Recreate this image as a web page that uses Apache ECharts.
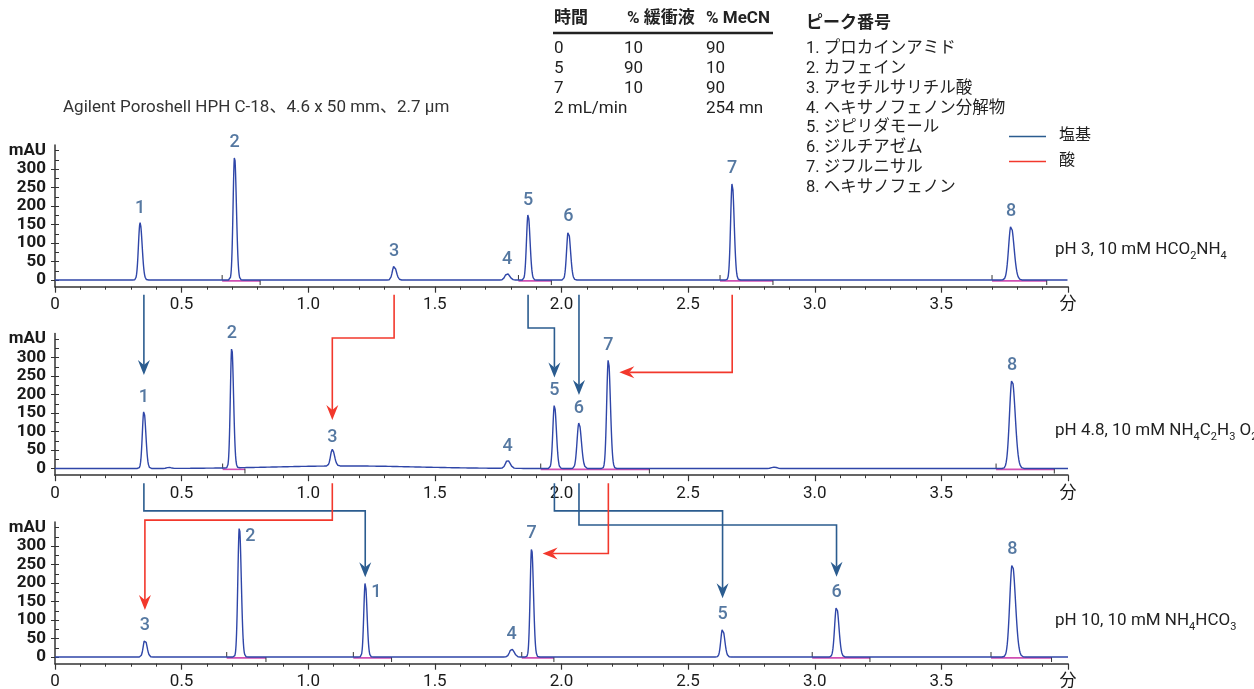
<!DOCTYPE html>
<html>
<head>
<meta charset="utf-8">
<script src="https://cdn.jsdelivr.net/npm/echarts@6/dist/echarts.min.js"></script>
<style>
html,body{margin:0;padding:0;background:#fff;}
#chart{width:1254px;height:689px;}
</style>
</head>
<body>
<div id="chart"></div>
<script>
// ---- peak table (retention time in min, height in mAU, gaussian sigma in min) ----
const peakNumbers = [1, 2, 3, 4, 5, 6, 7, 8];
const peakNames = ['プロカインアミド', 'カフェイン', 'アセチルサリチル酸', 'ヘキサノフェノン分解物',
  'ジピリダモール', 'ジルチアゼム', 'ジフルニサル', 'ヘキサノフェノン'];

// pH 3, 10 mM HCO2NH4
const ph3Times   = [0.336, 0.709, 1.339, 1.785, 1.868, 2.027, 2.674, 3.775];
const ph3Heights = [155, 335, 38, 18, 178, 133, 263, 147];
const ph3Sigmas  = [0.0065, 0.0058, 0.007, 0.008, 0.0062, 0.0068, 0.0062, 0.0095];
const ph3Integration = [[0.66, 0.81], [1.83, 1.96], [2.626, 2.835], [3.70, 3.916]];

// pH 4.8, 10 mM NH4C2H3O2
const ph48Times   = [0.351, 0.698, 1.095, 1.787, 1.972, 2.069, 2.185, 3.779];
const ph48Heights = [155, 326, 45, 22, 172, 124, 296, 241];
const ph48Sigmas  = [0.0062, 0.0056, 0.007, 0.008, 0.0062, 0.0075, 0.0065, 0.010];
const ph48Integration = [[0.662, 0.75], [1.918, 2.347], [3.716, 3.946]];
// unlabelled baseline features of the pH 4.8 run (small bumps and the broad rise)
const ph48MinorTimes   = [0.45, 1.15, 2.84];
const ph48MinorHeights = [3, 7, 4];
const ph48MinorSigmas  = [0.008, 0.28, 0.01];

// pH 10, 10 mM NH4HCO3
const ph10Times   = [1.225, 0.728, 0.355, 1.803, 2.636, 3.086, 1.882, 3.780];
const ph10Heights = [202, 352, 48, 22, 77, 137, 295, 252];
const ph10Sigmas  = [0.0056, 0.006, 0.0065, 0.008, 0.0068, 0.0075, 0.0058, 0.010];
const ph10Integration = [[0.678, 0.833], [1.178, 1.329], [1.843, 1.970], [2.99, 3.218], [3.696, 3.935]];

// gradient table
const gradientTimes = ['0', '5', '7'];
const bufferPct = ['10', '90', '10'];
const mecnPct = ['90', '10', '90'];

// axis ticks
const xTickLabels = ['0', '0.5', '1.0', '1.5', '2.0', '2.5', '3.0', '3.5', '分'];
const yLabelValues = [0, 50, 100, 150, 200, 250, 300, 350];
const yTickValues = [0, 25, 50, 75, 100, 125, 150, 175, 200, 225, 250, 275, 300, 325, 350];

// ---- styling ----
const NUM_FONT = "Roboto,'Noto Sans CJK JP',sans-serif";
const TRACE = '#2f46a8';
const LABEL_BLUE = '#2a5689';
const ARROW_BLUE = '#2b5c8f';
const ARROW_RED = '#f2382c';
const INTEG = '#d04fb2';
const AXIS = '#333';

const panels = [
  {times: ph3Times, heights: ph3Heights, sigmas: ph3Sigmas, integ: ph3Integration, top: 145,
   minor: null},
  {times: ph48Times, heights: ph48Heights, sigmas: ph48Sigmas, integ: ph48Integration, top: 333.5,
   minor: {times: ph48MinorTimes, heights: ph48MinorHeights, sigmas: ph48MinorSigmas}},
  {times: ph10Times, heights: ph10Heights, sigmas: ph10Sigmas, integ: ph10Integration, top: 522,
   minor: null}
];
// peak numbers written beside (not above) the apex, per panel
const sideLabelPeaks = [[], [], [1, 2]];

const Y_MIN = -18, Y_MAX = 365;

function addPeaks(y, t, times, heights, sigmas, tail) {
  for (let i = 0; i < times.length; i++) {
    const d = t - times[i];
    const s = d < 0 ? sigmas[i] : sigmas[i] * tail;
    if (Math.abs(d) < 10 * s) y += heights[i] * Math.exp(-0.5 * (d / s) * (d / s));
  }
  return y;
}

// detector trace: sum of slightly tailing gaussian peaks
function buildTrace(p) {
  const pts = [];
  for (let k = 0; k <= 4000; k++) {
    const t = k / 1000;
    let y = addPeaks(0, t, p.times, p.heights, p.sigmas, 1.25);
    if (p.minor) y = addPeaks(y, t, p.minor.times, p.minor.heights, p.minor.sigmas, 1);
    pts.push([t, y]);
  }
  return pts;
}

const grids = [], xAxes = [], yAxes = [], series = [];
panels.forEach((p, i) => {
  grids.push({left: 55, width: 1013, top: p.top, height: 141.7, outerBoundsMode: 'none'});
  xAxes.push({
    gridIndex: i, type: 'value', min: 0, max: 4, interval: 0.5,
    axisLine: {onZero: false, lineStyle: {color: AXIS, width: 1.6}},
    axisTick: {show: true, length: 6, lineStyle: {color: AXIS, width: 1.2}},
    minorTick: {show: true, splitNumber: 5, length: 3, lineStyle: {color: AXIS, width: 1}},
    splitLine: {show: false},
    axisLabel: {
      margin: 10, fontSize: 17, color: '#1a1a1a', fontFamily: NUM_FONT,
      formatter: v => xTickLabels[Math.round(v / 0.5)]
    }
  });
  yAxes.push({
    gridIndex: i, type: 'value', min: Y_MIN, max: Y_MAX, position: 'left',
    axisLine: {show: true, onZero: false, lineStyle: {color: AXIS, width: 1.5}},
    axisTick: {show: true, inside: true, length: 4, customValues: yTickValues, lineStyle: {color: AXIS}},
    axisLabel: {
      customValues: yLabelValues, margin: 9, fontSize: 17, fontWeight: 'bold',
      color: '#1a1a1a', fontFamily: NUM_FONT,
      formatter: v => (v === 350 ? 'mAU' : String(v))
    },
    splitLine: {show: false}
  });
  yAxes.push({
    gridIndex: i, type: 'value', min: Y_MIN, max: Y_MAX, position: 'left',
    axisLine: {show: false},
    axisTick: {show: true, inside: false, length: 4, customValues: yLabelValues.slice(0, 7), lineStyle: {color: AXIS}},
    axisLabel: {show: false},
    splitLine: {show: false}
  });

  // integration baselines with start / end markers
  series.push({
    type: 'custom', xAxisIndex: i, yAxisIndex: 2 * i, z: 1,
    data: p.integ,
    renderItem: (params, api) => {
      const a = api.coord([api.value(0), 0]);
      const b = api.coord([api.value(1), 0]);
      return {
        type: 'group',
        children: [
          {type: 'line', shape: {x1: a[0], y1: a[1] + 0.8, x2: b[0], y2: b[1] + 0.8}, style: {stroke: INTEG, lineWidth: 1.6}},
          {type: 'line', shape: {x1: a[0], y1: a[1] - 5, x2: a[0], y2: a[1]}, style: {stroke: '#333', lineWidth: 1}},
          {type: 'line', shape: {x1: b[0], y1: b[1], x2: b[0], y2: b[1] + 5}, style: {stroke: '#333', lineWidth: 1}}
        ]
      };
    }
  });

  series.push({
    type: 'line', xAxisIndex: i, yAxisIndex: 2 * i, z: 3,
    data: buildTrace(p), showSymbol: false, symbol: 'none', sampling: false,
    lineStyle: {color: TRACE, width: 1.4}, animation: false
  });

  series.push({
    type: 'scatter', xAxisIndex: i, yAxisIndex: 2 * i, z: 4,
    symbolSize: 2, itemStyle: {color: 'rgba(0,0,0,0)'},
    data: p.times.map((t, k) => {
      const side = sideLabelPeaks[i].indexOf(peakNumbers[k]) >= 0;
      return {
        value: [t, p.heights[k], peakNumbers[k]],
        label: side ? {position: 'right', distance: 5, offset: [0, 10]} : {position: 'top', distance: 4}
      };
    }),
    label: {
      show: true, color: LABEL_BLUE, fontSize: 18, fontWeight: 500, fontFamily: NUM_FONT,
      formatter: q => String(q.value[2])
    }
  });
});

// ---- static text ----
const graphics = [];
function txt(text, x, y, opt) {
  graphics.push({
    type: 'text', x: x, y: y, z: 10,
    style: Object.assign({text: text, fontSize: 17, fontFamily: NUM_FONT, fill: '#222',
      align: 'left', verticalAlign: 'middle'}, opt || {})
  });
}
txt('Agilent Poroshell HPH C-18、4.6 x 50 mm、2.7 µm', 63, 108, {fill: '#333'});

// gradient table
txt('時間', 554, 19, {fontWeight: 'bold'});
txt('% 緩衝液', 627, 19, {fontWeight: 'bold'});
txt('% MeCN', 706, 19, {fontWeight: 'bold'});
graphics.push({type: 'line', z: 10, shape: {x1: 553, y1: 33, x2: 773, y2: 33}, style: {stroke: '#222', lineWidth: 2.5}});
gradientTimes.forEach((t, k) => {
  const y = 48.5 + k * 20;
  txt(t, 554, y);
  txt(bufferPct[k], 624, y);
  txt(mecnPct[k], 706, y);
});
txt('2 mL/min', 554, 108.5);
txt('254 mn', 706, 108.5);

// peak list
txt('ピーク番号', 806, 24, {fontWeight: 'bold'});
peakNames.forEach((n, k) => txt(peakNumbers[k] + '. ' + n, 806, 49 + k * 19.8, {fontSize: 16.5}));

// legend
graphics.push({type: 'line', z: 10, shape: {x1: 1009, y1: 136.5, x2: 1046, y2: 136.5}, style: {stroke: ARROW_BLUE, lineWidth: 1.5}});
graphics.push({type: 'line', z: 10, shape: {x1: 1009, y1: 161.5, x2: 1046, y2: 161.5}, style: {stroke: ARROW_RED, lineWidth: 1.5}});
txt('塩基', 1059, 136, {fontSize: 16});
txt('酸', 1059, 161, {fontSize: 16});

// mobile phase of each panel, with subscripts
const rich = {
  m: {fontSize: 17, fontFamily: NUM_FONT, fill: '#222', lineHeight: 18, verticalAlign: 'top'},
  s: {fontSize: 11, fontFamily: NUM_FONT, fill: '#222', lineHeight: 10, padding: [10, 0, 0, 0], verticalAlign: 'top'}
};
[
  ['{m|pH 3, 10 mM HCO}{s|2}{m|NH}{s|4}', 250],
  ['{m|pH 4.8, 10 mM NH}{s|4}{m|C}{s|2}{m|H}{s|3}{m| O}{s|2}', 431],
  ['{m|pH 10, 10 mM NH}{s|4}{m|HCO}{s|3}', 621]
].forEach(r => graphics.push({
  type: 'text', x: 1055, y: r[1], z: 10,
  style: {text: r[0], rich: rich, align: 'left', verticalAlign: 'middle'}
}));

const chart = echarts.init(document.getElementById('chart'));
chart.setOption({
  animation: false,
  backgroundColor: '#fff',
  grid: grids, xAxis: xAxes, yAxis: yAxes, series: series,
  graphic: graphics
});

// ---- retention shift arrows between panels ----
// kind 'drop': straight down at the target time; 'elbow': down, across, down; 'side': down, then across to the peak
const shifts = [
  {from: 0, to: 1, peak: 1, color: ARROW_BLUE, kind: 'drop', tip: 253},
  {from: 0, to: 1, peak: 3, color: ARROW_RED, kind: 'elbow', level: 353, tip: 131},
  {from: 0, to: 1, peak: 5, color: ARROW_BLUE, kind: 'elbow', level: 380, tip: 246},
  {from: 0, to: 1, peak: 6, color: ARROW_BLUE, kind: 'drop', tip: 199},
  {from: 0, to: 1, peak: 7, color: ARROW_RED, kind: 'side', level: 260},
  {from: 1, to: 2, peak: 1, color: ARROW_BLUE, kind: 'elbow', level: 395, tip: 216},
  {from: 1, to: 2, peak: 3, color: ARROW_RED, kind: 'elbow', level: 370, tip: 127},
  {from: 1, to: 2, peak: 5, color: ARROW_BLUE, kind: 'elbow', level: 395, tip: 159},
  {from: 1, to: 2, peak: 6, color: ARROW_BLUE, kind: 'elbow', level: 357, tip: 217},
  {from: 1, to: 2, peak: 7, color: ARROW_RED, kind: 'side', level: 280}
];

function px(panel, t, v) {
  return chart.convertToPixel({xAxisIndex: panel, yAxisIndex: 2 * panel}, [t, v]);
}

const arrowGraphics = [];
shifts.forEach(s => {
  const k = peakNumbers.indexOf(s.peak);
  const t0 = panels[s.from].times[k];
  const t1 = panels[s.to].times[k];
  const startY = px(s.from, 0, Y_MIN)[1] + 8;
  let pts;
  if (s.kind === 'drop') {
    const x = px(s.to, t1, 0)[0];
    pts = [[x, startY], [x, px(s.to, t1, s.tip)[1]]];
  } else if (s.kind === 'elbow') {
    const x0 = px(s.from, t0, 0)[0];
    const x1 = px(s.to, t1, 0)[0];
    const yl = px(s.to, t1, s.level)[1];
    pts = [[x0, startY], [x0, yl], [x1, yl], [x1, px(s.to, t1, s.tip)[1]]];
  } else {
    const x0 = px(s.from, t0, 0)[0];
    const x1 = px(s.to, t1, 0)[0] + 11;
    const yl = px(s.to, t1, s.level)[1];
    pts = [[x0, startY], [x0, yl], [x1, yl]];
  }
  // arrow head
  const e = pts[pts.length - 1], q = pts[pts.length - 2];
  const dx = e[0] - q[0], dy = e[1] - q[1];
  const len = Math.sqrt(dx * dx + dy * dy);
  const ux = dx / len, uy = dy / len, nx = -uy, ny = ux;
  const L = 15, W = 6, N = 5;
  const head = [
    [e[0], e[1]],
    [e[0] - ux * L + nx * W, e[1] - uy * L + ny * W],
    [e[0] - ux * (L - N), e[1] - uy * (L - N)],
    [e[0] - ux * L - nx * W, e[1] - uy * L - ny * W]
  ];
  const linePts = pts.slice(0, -1).concat([[e[0] - ux * (L - N), e[1] - uy * (L - N)]]);
  arrowGraphics.push({type: 'polyline', z: 20, shape: {points: linePts}, style: {stroke: s.color, lineWidth: 1.6, fill: null}});
  arrowGraphics.push({type: 'polygon', z: 20, shape: {points: head}, style: {fill: s.color}});
});

chart.setOption({graphic: graphics.concat(arrowGraphics)});
</script>
</body>
</html>
